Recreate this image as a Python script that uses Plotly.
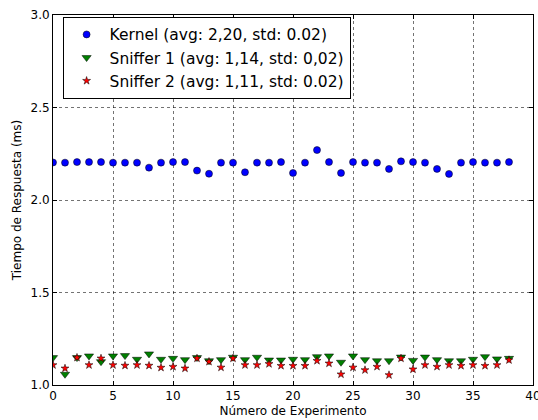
import plotly.graph_objects as go

# Experiment index and measured response times (ms)
experimentos = list(range(39))

kernel = [2.203, 2.202, 2.205, 2.205, 2.205, 2.202, 2.202, 2.202, 2.175, 2.202,
          2.205, 2.205, 2.159, 2.142, 2.202, 2.202, 2.150, 2.202, 2.202, 2.205,
          2.146, 2.202, 2.270, 2.205, 2.146, 2.205, 2.202, 2.202, 2.168, 2.209,
          2.205, 2.202, 2.168, 2.141, 2.202, 2.205, 2.202, 2.202, 2.205]

sniffer1 = [1.148, 1.058, 1.148, 1.157, 1.126, 1.157, 1.159, 1.139, 1.168, 1.139,
            1.144, 1.137, 1.148, 1.131, 1.137, 1.150, 1.137, 1.150, 1.135, 1.135,
            1.139, 1.137, 1.153, 1.157, 1.123, 1.157, 1.137, 1.131, 1.131, 1.151,
            1.133, 1.151, 1.137, 1.131, 1.131, 1.139, 1.153, 1.141, 1.144]

sniffer2 = [1.108, 1.090, 1.148, 1.108, 1.144, 1.108, 1.105, 1.108, 1.105, 1.094,
            1.099, 1.090, 1.144, 1.126, 1.095, 1.144, 1.108, 1.108, 1.114, 1.104,
            1.104, 1.104, 1.131, 1.117, 1.058, 1.095, 1.081, 1.099, 1.054, 1.144,
            1.085, 1.108, 1.099, 1.108, 1.104, 1.108, 1.104, 1.108, 1.135]

nombres = ["Kernel (avg: 2,20, std: 0.02)",
           "Sniffer 1 (avg: 1,14, std: 0,02)",
           "Sniffer 2 (avg: 1,11, std: 0.02)"]

x_ticks = [0, 5, 10, 15, 20, 25, 30, 35, 40]
y_ticks = [1.0, 1.5, 2.0, 2.5, 3.0]

FONT = "DejaVu Sans"

fig = go.Figure()
fig.add_trace(go.Scatter(
    x=experimentos, y=kernel, mode="markers", name=nombres[0],
    marker=dict(symbol="circle", size=7, color="#0000ff",
                line=dict(color="#000000", width=0.5))))
fig.add_trace(go.Scatter(
    x=experimentos, y=sniffer1, mode="markers", name=nombres[1],
    marker=dict(symbol="triangle-down", size=8, color="#008000",
                line=dict(color="#000000", width=0.5))))
fig.add_trace(go.Scatter(
    x=experimentos, y=sniffer2, mode="markers", name=nombres[2],
    marker=dict(symbol="star", size=6, color="#ff0000",
                line=dict(color="#000000", width=0.5))))

axis_common = dict(
    showline=True, linecolor="#000000", linewidth=1, mirror="ticks",
    ticks="inside", ticklen=4, tickcolor="#000000", tickwidth=1,
    showgrid=True, gridcolor="rgba(0,0,0,0.55)", griddash="dot", gridwidth=1,
    zeroline=False, ticklabeloverflow="allow", automargin=False,
    tickfont=dict(family=FONT, size=12, color="#000000"),
)

fig.update_xaxes(
    range=[0, 40], tickvals=x_ticks, ticktext=[str(v) for v in x_ticks],
    title=dict(text="Número de Experimento", standoff=4,
               font=dict(family=FONT, size=12, color="#000000")),
    **axis_common)
fig.update_yaxes(
    range=[1.0, 3.0], tickvals=y_ticks, ticktext=[f"{v:.1f}" for v in y_ticks],
    title=dict(text="Tiempo de Respuesta (ms)", standoff=6,
               font=dict(family=FONT, size=12, color="#000000")),
    **axis_common)

fig.update_layout(
    width=538, height=420,
    margin=dict(l=53, r=5, t=15, b=35, autoexpand=False),
    paper_bgcolor="#ffffff", plot_bgcolor="#ffffff",
    font=dict(family=FONT, size=12, color="#000000"),
    legend=dict(
        x=0.02, y=0.995, xanchor="left", yanchor="top",
        bgcolor="#ffffff", bordercolor="#000000", borderwidth=1,
        font=dict(family=FONT, size=15.5, color="#000000"),
        itemwidth=36,
    ),
)

fig.write_html("out.html")
